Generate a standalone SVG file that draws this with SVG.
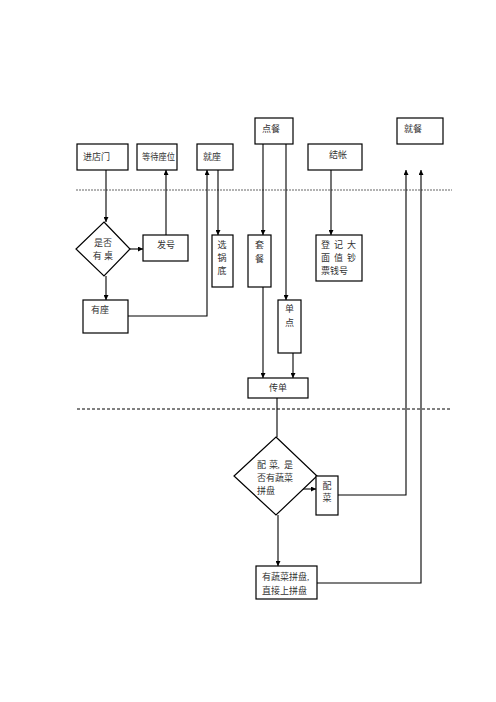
<svg xmlns="http://www.w3.org/2000/svg" width="496" height="702" viewBox="0 0 496 702">
<style>
.box{fill:#fff;stroke:#000;stroke-width:1.2}
.t{font-family:"Liberation Serif","Noto Sans CJK SC",serif;font-size:9px;fill:#333}
.c{text-anchor:middle}
.ln{fill:none;stroke:#000;stroke-width:1.1}
</style>
<defs>
<marker id="ah" viewBox="0 0 10 10" refX="10" refY="5" markerWidth="5" markerHeight="5" orient="auto" markerUnits="userSpaceOnUse">
<path d="M0,0 L10,5 L0,10 z" fill="#000"/>
</marker>
</defs>
<rect width="496" height="702" fill="#fff"/>
<g id="lanes">
<line x1="76" y1="190" x2="452" y2="190" stroke="#999" stroke-width="1.6" stroke-dasharray="2,1"/>
<line x1="77" y1="409" x2="452" y2="409" stroke="#000" stroke-width="1" stroke-dasharray="3,2"/>
</g>
<g id="connectors">
<line class="ln" x1="106" y1="170" x2="106" y2="222" marker-end="url(#ah)"/>
<line class="ln" x1="130" y1="249" x2="143" y2="249" marker-end="url(#ah)"/>
<line class="ln" x1="166" y1="235" x2="166" y2="170" marker-end="url(#ah)"/>
<line class="ln" x1="106" y1="276" x2="106" y2="300" marker-end="url(#ah)"/>
<polyline class="ln" points="128,316 207,316 207,170" marker-end="url(#ah)"/>
<line class="ln" x1="218" y1="170" x2="218" y2="235" marker-end="url(#ah)"/>
<line class="ln" x1="263" y1="144" x2="263" y2="235" marker-end="url(#ah)"/>
<line class="ln" x1="286" y1="144" x2="286" y2="300" marker-end="url(#ah)"/>
<line class="ln" x1="331" y1="170" x2="331" y2="235" marker-end="url(#ah)"/>
<line class="ln" x1="263" y1="287" x2="263" y2="378" marker-end="url(#ah)"/>
<line class="ln" x1="293" y1="353" x2="293" y2="378" marker-end="url(#ah)"/>
<line class="ln" x1="277" y1="398" x2="277" y2="437"/>
<line class="ln" x1="302" y1="489" x2="316" y2="489" marker-end="url(#ah)"/>
<polyline class="ln" points="338,495 406,495 406,170" marker-end="url(#ah)"/>
<line class="ln" x1="278" y1="515" x2="278" y2="566" marker-end="url(#ah)"/>
<polyline class="ln" points="317,583 421,583 421,170" marker-end="url(#ah)"/>
</g>
<g id="n-jindianmen"><rect class="box" x="77" y="144" width="51" height="26"/><text class="t" x="83" y="160">进店门</text></g>
<g id="n-dengdai"><rect class="box" x="137" y="144" width="40" height="26"/><text class="t" x="142" y="160" textLength="33" lengthAdjust="spacingAndGlyphs">等待座位</text></g>
<g id="n-jiuzuo"><rect class="box" x="197" y="144" width="36" height="26"/><text class="t" x="203" y="160">就座</text></g>
<g id="n-diancan"><rect class="box" x="255" y="118" width="38" height="26"/><text class="t" x="262" y="132">点餐</text></g>
<g id="n-jiucan"><rect class="box" x="397" y="118" width="46" height="26"/><text class="t" x="404" y="132">就餐</text></g>
<g id="n-jiezhang"><rect class="box" x="308" y="144" width="54" height="26"/><text class="t" x="329" y="158">结帐</text></g>
<g id="n-shifou"><polygon class="box" points="104,222 130,249 104,276 76,249"/><text class="t c" x="103" y="246">是否</text><text class="t c" x="103" y="259">有 桌</text></g>
<g id="n-fahao"><rect class="box" x="143" y="235" width="45" height="26"/><text class="t" x="157" y="248">发号</text></g>
<g id="n-youzuo"><rect class="box" x="83" y="300" width="45" height="33"/><text class="t" x="91" y="313">有座</text></g>
<g id="n-xuanguodi"><rect class="box" x="212" y="235" width="21" height="52"/><text class="t c" x="222" y="248">选</text><text class="t c" x="222" y="261">锅</text><text class="t c" x="222" y="274">底</text></g>
<g id="n-taocan"><rect class="box" x="248" y="235" width="23" height="52"/><text class="t c" x="259.5" y="248">套</text><text class="t c" x="259.5" y="262">餐</text></g>
<g id="n-dandian"><rect class="box" x="278" y="300" width="23" height="53"/><text class="t c" x="289.5" y="312">单</text><text class="t c" x="289.5" y="326">点</text></g>
<g id="n-dengji"><rect class="box" x="316" y="235" width="46" height="46"/><text class="t" x="321 334 347" y="248">登记大</text><text class="t" x="321 334 347" y="261">面值钞</text><text class="t" x="321" y="274">票钱号</text></g>
<g id="n-chuandan"><rect class="box" x="248" y="378" width="60" height="20"/><text class="t c" x="278" y="391">传单</text></g>
<g id="n-peicai-q"><polygon class="box" points="276,437 317,476 276,515 234,476"/><text class="t" x="257 269 277.5 284" y="468">配菜,是</text><text class="t" x="257" y="481">否有蔬菜</text><text class="t" x="257" y="494">拼盘</text></g>
<g id="n-peicai"><rect class="box" x="316" y="476" width="22" height="39"/><text class="t c" x="327" y="489">配</text><text class="t c" x="327" y="501">菜</text></g>
<g id="n-youshucai"><rect class="box" x="256" y="566" width="61" height="33"/><text class="t" x="262" y="580">有蔬菜拼盘,</text><text class="t" x="262" y="594">直接上拼盘</text></g>
</svg>
